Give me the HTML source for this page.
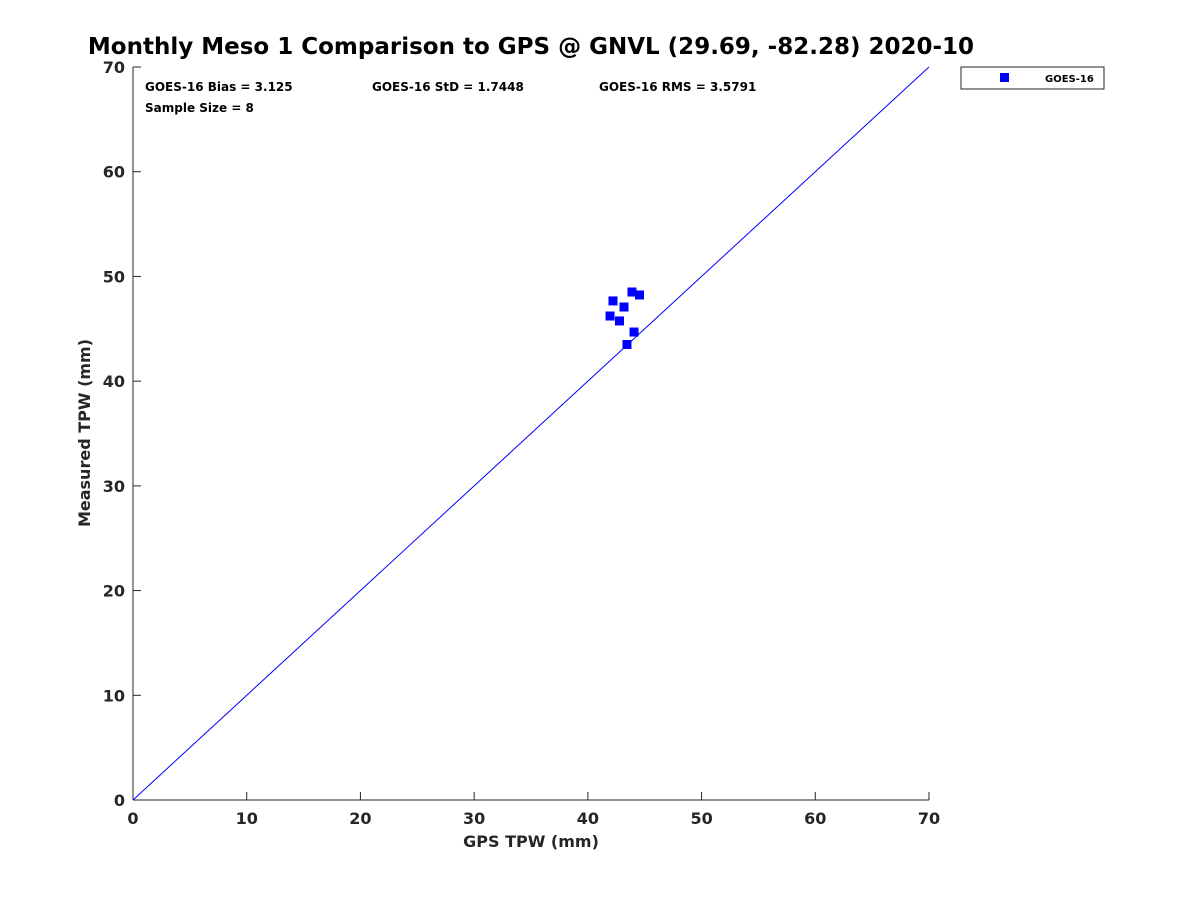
<!DOCTYPE html>
<html><head><meta charset="utf-8"><style>
body{margin:0;background:#fff;font-family:"Liberation Sans",sans-serif}
svg text{font-family:"DejaVu Sans","Liberation Sans",sans-serif;fill:#262626}
</style></head><body>
<svg id="chart" width="1200" height="900" xmlns="http://www.w3.org/2000/svg">
<rect width="1200" height="900" fill="#fff"/>
<text x="531" y="54" text-anchor="middle" font-size="23" font-weight="bold" style="fill:#000">Monthly Meso 1 Comparison to GPS @ GNVL (29.69, -82.28) 2020-10</text>
<g id="axes"></g>
<line id="diag" stroke="#0000ff" stroke-width="1"/>
<g id="pts"></g>
<text x="145" y="91" font-size="12" font-weight="bold" style="fill:#000">GOES-16 Bias = 3.125</text>
<text x="372" y="91" font-size="12" font-weight="bold" style="fill:#000">GOES-16 StD = 1.7448</text>
<text x="599" y="91" font-size="12" font-weight="bold" style="fill:#000">GOES-16 RMS = 3.5791</text>
<text x="145" y="112" font-size="12" font-weight="bold" style="fill:#000">Sample Size = 8</text>
<g>
<rect x="961" y="67" width="143" height="22" fill="#fff" stroke="#262626" stroke-width="1"/>
<rect x="1000" y="73" width="9" height="9" fill="#0000ff"/>
<text x="1045" y="82" font-size="10" font-weight="bold" style="fill:#000">GOES-16</text>
</g>
<text x="531" y="847" text-anchor="middle" font-size="16" font-weight="bold">GPS TPW (mm)</text>
<text transform="translate(90,433) rotate(-90)" text-anchor="middle" font-size="16" font-weight="bold">Measured TPW (mm)</text>
</svg>
<script>
const xTicks=[0,10,20,30,40,50,60,70];
const yTicks=[0,10,20,30,40,50,60,70];
const gpsValues=[43.88,44.54,42.21,43.18,41.95,42.78,44.06,43.44];
const measuredValues=[48.51,48.23,47.66,47.08,46.22,45.75,44.69,43.5];
const X0=133,X1=929,Y0=800,Y1=67,MIN=0,MAX=70;
const sx=v=>X0+(v-MIN)/(MAX-MIN)*(X1-X0);
const sy=v=>Y0-(v-MIN)/(MAX-MIN)*(Y0-Y1);
const NS='http://www.w3.org/2000/svg';
const ax=document.getElementById('axes');
function mk(t,a,p){const e=document.createElementNS(NS,t);for(const k in a)e.setAttribute(k,a[k]);(p||ax).appendChild(e);return e;}
let l=mk('line',{x1:X0,y1:Y0,x2:X1,y2:Y0,stroke:'#262626'});


l=mk('line',{x1:X0,y1:Y0,x2:X0,y2:Y1,stroke:'#262626'});


xTicks.forEach(v=>{const x=sx(v);
mk('line',{x1:x,y1:Y0,x2:x,y2:Y0-8,stroke:'#262626'});
const t=mk('text',{x:x,y:Y0+24,'text-anchor':'middle','font-size':16,'font-weight':'bold'});t.textContent=v;

});
yTicks.forEach(v=>{const y=sy(v);
mk('line',{x1:X0,y1:y,x2:X0+8,y2:y,stroke:'#262626'});
const t=mk('text',{x:X0-8,y:y+6,'text-anchor':'end','font-size':16,'font-weight':'bold'});t.textContent=v;

});
const d=document.getElementById('diag');
d.setAttribute('x1',sx(0));d.setAttribute('y1',sy(0));d.setAttribute('x2',sx(70));d.setAttribute('y2',sy(70));
const pg=document.getElementById('pts');
gpsValues.forEach((g,i)=>{const r=mk('rect',{x:sx(g)-4.5,y:sy(measuredValues[i])-4.5,width:9,height:9,fill:'#0000ff'},pg);

});
</script>
</body></html>
